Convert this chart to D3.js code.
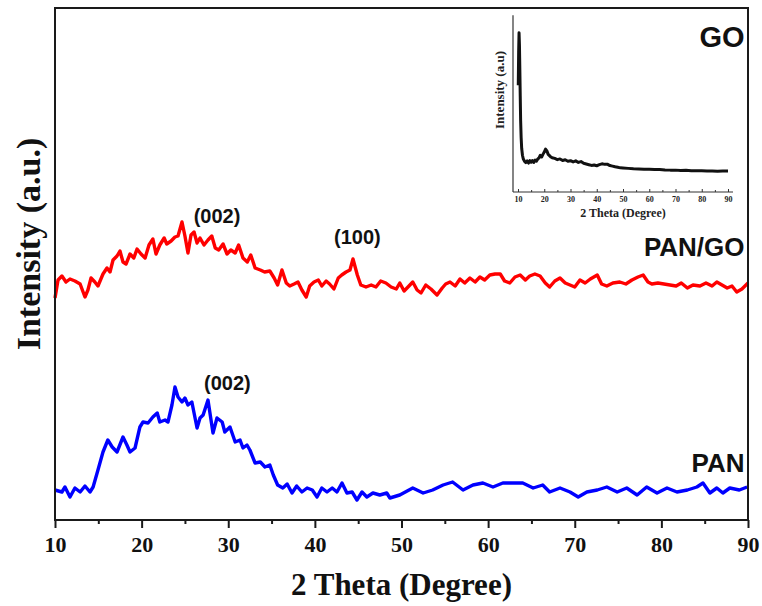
<!DOCTYPE html>
<html>
<head>
<meta charset="utf-8">
<script src="https://cdn.jsdelivr.net/npm/d3@7"></script>
<style>
  body { margin: 0; background: #fff; }
  svg { display: block; }
</style>
</head>
<body>
<svg id="chart" width="762" height="606"></svg>
<script>
// XRD patterns: 2θ (degree) and intensity (a.u.)
const panGoAngle = [10.0,10.35,10.8,11.27,11.73,12.3,12.9,13.46,13.8,14.16,14.6,14.96,15.54,16.0,16.35,16.7,17.16,17.5,17.85,18.2,18.66,19.1,19.47,19.93,20.4,20.85,21.3,21.66,22.1,22.6,22.9,23.4,23.85,24.2,24.66,25.0,25.35,25.7,26.05,26.4,26.74,27.2,27.66,28.1,28.5,28.9,29.4,29.86,30.3,30.8,31.2,31.7,32.2,32.6,33.1,33.7,34.2,34.8,35.3,35.7,36.2,36.7,37.1,37.6,38.05,38.5,39.0,39.4,39.9,40.4,40.8,41.3,41.7,42.2,42.7,43.1,43.6,44.05,44.4,44.9,45.3,45.9,46.5,47.05,47.6,48.2,48.8,49.4,49.8,50.3,50.75,51.3,51.8,52.25,52.8,53.4,54.1,54.7,55.1,55.6,56.2,56.75,57.3,57.9,58.5,59.05,59.6,60.2,60.8,61.4,61.9,62.5,63.1,63.7,64.3,64.8,65.4,66.0,66.6,67.1,67.7,68.3,68.9,69.45,70.0,70.6,71.2,71.8,72.6,73.1,73.7,74.4,75.2,75.9,76.6,77.3,77.9,78.45,78.9,79.6,80.3,81.0,81.7,82.3,83.0,83.65,84.45,85.15,85.85,86.4,87.0,87.6,88.15,88.7,89.3,90.0];
const panGoIntensity = [444,480,488,476,482,478,472,446,460,484,476,468,492,504,496,520,528,538,516,512,532,524,542,532,524,550,562,532,550,564,552,558,566,568,596,568,534,570,576,554,564,550,560,568,544,540,552,532,540,534,550,524,516,530,504,500,496,498,484,470,500,474,468,472,476,460,446,468,476,480,468,478,472,462,484,490,496,500,522,490,470,466,470,466,478,474,466,462,474,458,466,476,460,454,470,462,450,464,472,476,468,482,474,484,476,486,480,490,492,492,478,474,486,490,480,488,492,488,474,466,478,484,474,470,466,480,474,482,490,472,468,474,476,472,480,486,490,476,472,474,472,470,468,474,464,470,468,474,468,476,470,464,468,456,462,474];

const panAngle = [10.0,10.8,11.15,11.73,12.3,12.9,13.46,14.04,14.4,14.96,15.54,16.1,16.6,17.16,17.85,18.3,18.66,19.24,19.8,20.16,20.74,21.3,21.8,22.1,22.7,23.04,23.5,23.85,24.2,24.66,25.0,25.35,25.8,26.4,26.74,27.1,27.66,28.24,28.7,29.3,29.6,30.2,30.8,31.36,31.7,32.16,32.5,33.1,33.7,34.24,34.8,35.2,35.7,36.3,36.8,37.36,37.9,38.5,39.1,39.7,40.25,40.8,41.4,42.0,42.55,43.13,43.7,44.3,44.86,45.44,46.0,46.7,47.5,48.3,48.66,49.8,51.3,52.5,53.6,54.8,55.9,57.1,58.25,59.4,60.56,61.7,62.9,64.0,65.2,66.3,67.1,68.3,69.45,70.4,71.4,72.6,73.7,74.9,76.0,77.2,78.3,79.5,80.65,81.8,83.0,84.1,84.8,85.6,86.4,87.1,87.9,89.0,89.9];
const panIntensity = [60,56,66,46,64,56,68,56,66,100,136,160,146,136,166,150,136,144,186,196,194,206,214,196,200,196,230,266,246,236,244,230,236,184,204,210,240,174,204,196,176,186,156,160,144,150,140,114,116,106,110,90,70,64,72,54,68,56,64,60,46,64,56,64,56,74,54,56,40,56,46,54,50,54,44,50,64,54,60,70,76,60,70,74,66,74,74,74,64,70,56,64,56,46,56,60,66,56,64,50,66,54,64,56,60,66,74,54,64,54,64,60,66];

const goAngle = [10.1,10.25,10.4,10.55,10.7,10.85,11.0,11.2,11.4,11.7,12.0,12.5,13,13.5,14,14.5,15,15.5,16,16.5,17,17.5,18,18.5,19,19.5,20,20.5,21,21.5,22,22.5,23,24,25,26,27,28,29,30,31,32,33,34,35,36,37,38,39,40,41,42,43,44,45,46,47,48,49,50,52,54,56,58,60,62,64,66,68,70,72,74,76,78,80,82,84,86,88,90];
const goIntensity = [61,80,91,84,70,55,41,31,25,21,19,17.5,16.8,17.8,16.5,17.9,17,18,16.9,18.2,17.6,18.8,19.5,21,20,21.5,22.8,24.5,23.5,21.5,20.8,20,19.6,19.2,18.5,18.9,18,18.4,17.6,17.9,17.2,17.8,16.9,17.4,16.4,16,15.6,15.2,15.4,15,15.6,16.1,15.8,15.9,15.1,14.8,14.4,14.1,13.8,13.7,13.5,13.3,13.2,13,13,12.9,12.9,12.6,12.5,12.5,12.3,12.4,12.2,12.1,12.1,12,12,11.9,12,12];

const majorTicks = [10, 20, 30, 40, 50, 60, 70, 80, 90];
const minorTicks = [15, 25, 35, 45, 55, 65, 75, 85];

const serif = "'Liberation Serif', 'Times New Roman', serif";
const sans = "'Liberation Sans', Arial, sans-serif";

const svg = d3.select("#chart");

// ---- main panel ----
const x = d3.scaleLinear().domain([10, 90]).range([55, 748]);
const y = d3.scaleLinear().domain([0, 1024]).range([520, 8]);

const line = d3.line().x(d => x(d[0])).y(d => y(d[1]));

function series(angles, values) { return angles.map((a, i) => [a, values[i]]); }

svg.append("path")
  .datum(series(panGoAngle, panGoIntensity))
  .attr("d", line)
  .attr("fill", "none").attr("stroke", "#ff0000")
  .attr("stroke-width", 3.4).attr("stroke-linejoin", "round");

svg.append("path")
  .datum(series(panAngle, panIntensity))
  .attr("d", line)
  .attr("fill", "none").attr("stroke", "#0000ff")
  .attr("stroke-width", 3.4).attr("stroke-linejoin", "round");

// frame
svg.append("rect")
  .attr("x", x(10)).attr("y", y(1024))
  .attr("width", x(90) - x(10)).attr("height", y(0) - y(1024))
  .attr("fill", "none").attr("stroke", "#1a1a1a").attr("stroke-width", 2);

// bottom axis
const xAxis = svg.append("g").attr("transform", `translate(0,${y(0)})`)
  .call(d3.axisBottom(x).tickValues(majorTicks).tickSize(8).tickPadding(8).tickFormat(d3.format("d")));
xAxis.select(".domain").remove();
xAxis.selectAll(".tick line").attr("stroke", "#1a1a1a").attr("stroke-width", 2);
xAxis.selectAll(".tick text")
  .attr("font-family", serif).attr("font-weight", "bold").attr("font-size", 22).attr("fill", "#111");

const xMinor = svg.append("g").attr("transform", `translate(0,${y(0)})`)
  .call(d3.axisBottom(x).tickValues(minorTicks).tickSize(4).tickFormat(""));
xMinor.select(".domain").remove();
xMinor.selectAll(".tick line").attr("stroke", "#1a1a1a").attr("stroke-width", 2);

svg.append("text")
  .attr("x", (x(10) + x(90)) / 2).attr("y", 595)
  .attr("text-anchor", "middle")
  .attr("font-family", serif).attr("font-weight", "bold").attr("font-size", 31)
  .attr("fill", "#111")
  .text("2 Theta (Degree)");

svg.append("text")
  .attr("transform", "translate(40,244) rotate(-90)")
  .attr("text-anchor", "middle")
  .attr("font-family", serif).attr("font-weight", "bold").attr("font-size", 34)
  .attr("fill", "#111")
  .text("Intensity (a.u.)");

// peak and sample labels
const labels = [
  { t: "(002)", a: 28.7, v: 2 * (520 - 223), anchor: "middle", size: 20 },
  { t: "(100)", a: 44.9, v: 2 * (520 - 244), anchor: "middle", size: 20 },
  { t: "(002)", a: 29.9, v: 2 * (520 - 390), anchor: "middle", size: 20 },
  { t: "PAN/GO", a: 89.6, v: 2 * (520 - 256), anchor: "end", size: 26 },
  { t: "PAN", a: 89.6, v: 2 * (520 - 472), anchor: "end", size: 26 },
  { t: "GO", a: 89.6, v: 2 * (520 - 47), anchor: "end", size: 29 }
];
svg.selectAll("text.lbl").data(labels).enter().append("text")
  .attr("class", "lbl")
  .attr("x", d => x(d.a)).attr("y", d => y(d.v))
  .attr("text-anchor", d => d.anchor)
  .attr("font-family", sans).attr("font-weight", "bold")
  .attr("font-size", d => d.size).attr("fill", "#111")
  .text(d => d.t);

// ---- inset: GO pattern ----
const xi = d3.scaleLinear().domain([10, 90]).range([518, 728]);
const yi = d3.scaleLinear().domain([0, 100]).range([192, 17]);
const lineI = d3.line().x(d => xi(d[0])).y(d => yi(d[1]));

svg.append("path")
  .datum(series(goAngle, goIntensity))
  .attr("d", lineI)
  .attr("fill", "none").attr("stroke", "#111")
  .attr("stroke-width", 3).attr("stroke-linejoin", "round");

// inset axes lines
svg.append("line").attr("x1", 513).attr("x2", 513).attr("y1", yi(101)).attr("y2", yi(0))
  .attr("stroke", "#333").attr("stroke-width", 1.2);
svg.append("line").attr("x1", 513).attr("x2", 733).attr("y1", yi(0)).attr("y2", yi(0))
  .attr("stroke", "#333").attr("stroke-width", 1.2);

const xiAxis = svg.append("g").attr("transform", `translate(0,${yi(0)})`)
  .call(d3.axisBottom(xi).tickValues(majorTicks).tickSizeInner(-3).tickSizeOuter(0).tickPadding(4).tickFormat(d3.format("d")));
xiAxis.select(".domain").remove();
xiAxis.selectAll(".tick line").attr("stroke", "#333");
xiAxis.selectAll(".tick text")
  .attr("font-family", serif).attr("font-weight", "bold").attr("font-size", 8).attr("fill", "#222");
const xiMinor = svg.append("g").attr("transform", `translate(0,${yi(0)})`)
  .call(d3.axisBottom(xi).tickValues(minorTicks).tickSize(-2).tickFormat(""));
xiMinor.select(".domain").remove();
xiMinor.selectAll(".tick line").attr("stroke", "#333");

svg.append("text")
  .attr("x", 623).attr("y", 217).attr("text-anchor", "middle")
  .attr("font-family", serif).attr("font-weight", "bold").attr("font-size", 12).attr("fill", "#222")
  .text("2 Theta (Degree)");
svg.append("text")
  .attr("transform", "translate(504,90) rotate(-90)")
  .attr("text-anchor", "middle")
  .attr("font-family", serif).attr("font-weight", "bold").attr("font-size", 13).attr("fill", "#222")
  .text("Intensity (a.u)");
</script>
</body>
</html>
